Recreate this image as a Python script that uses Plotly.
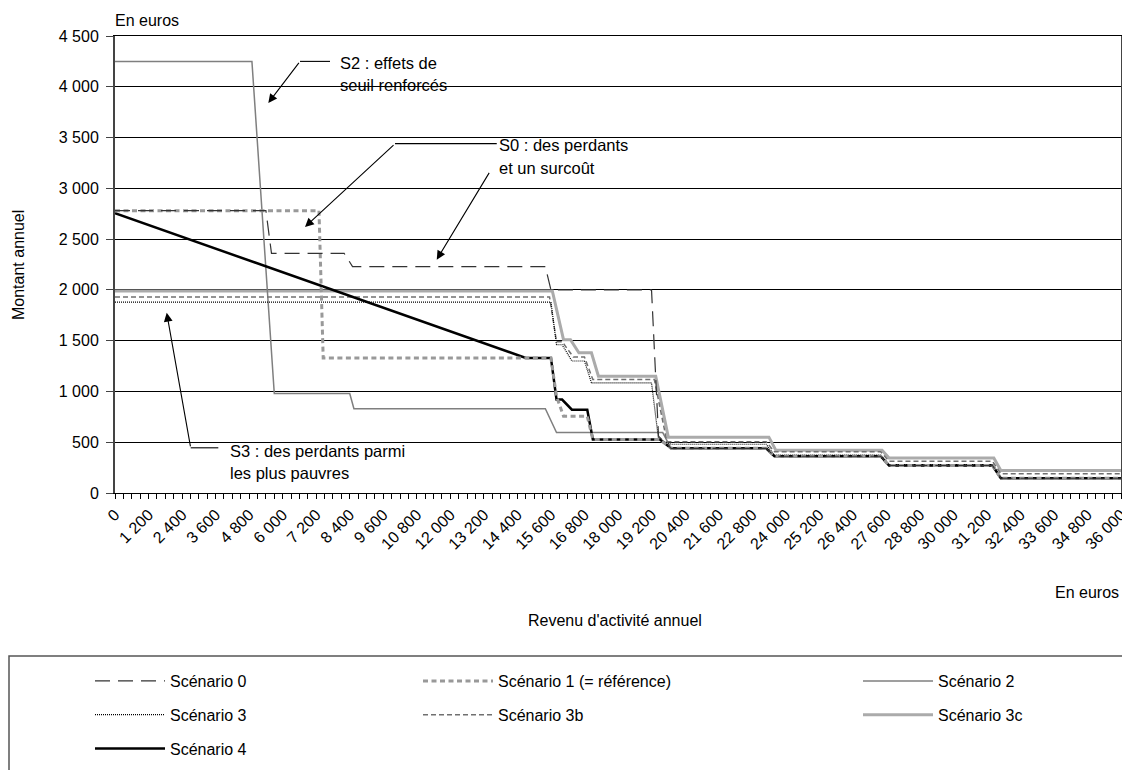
import plotly.graph_objects as go

# ---------------- data (euros / annual amount) ----------------
x_s0 = [0, 5400, 5600, 8200, 8500, 15400, 15600, 19200, 19450, 19900, 23300, 23600, 27400, 27700, 31400, 31700, 36000]
y_s0 = [2780, 2780, 2360, 2360, 2230, 2230, 2000, 2000, 560, 440, 440, 362, 362, 271, 271, 145, 145]

x_s1 = [0, 7300, 7450, 15600, 15800, 16050, 16900, 17100, 19500, 19900, 23300, 23600, 27400, 27700, 31400, 31700, 36000]
y_s1 = [2780, 2780, 1330, 1330, 950, 756, 756, 527, 527, 440, 440, 362, 362, 271, 271, 145, 145]

x_s2 = [0, 4900, 5700, 8400, 8550, 15400, 15800, 19600, 19900, 23300, 23600, 27400, 27700, 31400, 31700, 36000]
y_s2 = [4250, 4250, 980, 980, 830, 830, 595, 595, 440, 440, 362, 362, 271, 271, 145, 145]

x_s3 = [0, 15600, 15800, 16000, 16350, 16800, 17050, 19200, 19450, 19900, 23300, 23600, 27400, 27700, 31400, 31700, 36000]
y_s3 = [1880, 1880, 1460, 1460, 1300, 1300, 1085, 1085, 530, 480, 480, 372, 372, 280, 280, 152, 152]

x_s3b = [0, 15550, 15800, 16000, 16400, 16800, 17100, 19300, 19750, 23300, 23600, 27400, 27700, 31400, 31700, 36000]
y_s3b = [1930, 1930, 1490, 1490, 1340, 1340, 1117, 1117, 505, 505, 405, 405, 313, 313, 189, 189]

x_s3c = [0, 15650, 16050, 16300, 16600, 17050, 17300, 19350, 19800, 23400, 23650, 27450, 27700, 31450, 31700, 36000]
y_s3c = [1990, 1990, 1510, 1510, 1380, 1380, 1150, 1150, 550, 550, 420, 420, 345, 345, 222, 222]

x_s4 = [0, 14700, 15600, 15800, 16000, 16350, 16900, 17100, 19500, 19900, 23300, 23600, 27400, 27700, 31400, 31700, 36000]
y_s4 = [2755, 1330, 1330, 920, 920, 820, 820, 527, 527, 440, 440, 362, 362, 271, 271, 145, 145]

names = ["Scénario 0", "Scénario 1 (= référence)", "Scénario 2", "Scénario 3",
         "Scénario 3b", "Scénario 3c", "Scénario 4"]

FONT = "Liberation Sans, Arial, sans-serif"

fig = go.Figure()

def add(x, y, name, color, width, dash, legend, rank):
    fig.add_trace(go.Scatter(
        x=x, y=y, name=name, mode="lines",
        line=dict(color=color, width=width, dash=dash),
        legend=legend, legendrank=rank, legendgroup=name,
        hoverinfo="skip"))

# drawing order (bottom -> top)
add(x_s3c, y_s3c, names[5], "#ababab", 3, "solid", "legend3", 2)
add(x_s2, y_s2, names[2], "#7f7f7f", 1.5, "solid", "legend3", 1)
add(x_s3b, y_s3b, names[4], "#707070", 1.5, "5px,3px", "legend2", 2)
add(x_s3, y_s3, names[3], "#000000", 1.2, "1px,1px", "legend", 2)
add(x_s4, y_s4, names[6], "#000000", 2.5, "solid", "legend", 3)
add(x_s1, y_s1, names[1], "#999999", 3, "5px,3.5px", "legend2", 1)
add(x_s0, y_s0, names[0], "#333333", 1.2, "15px,8px", "legend", 1)

# page body has an 8px margin: the figure starts at (8, 8) in the window
OFF = 8
W, H = 1122, 762
L, R, T, B = 107, 9, 28, 277
PW = W - L - R
PH = H - T - B

def px(xp):  # window pixel -> paper x
    return (xp - OFF - L) / PW

def py(yp):  # window pixel -> paper y
    return (H - B - (yp - OFF)) / PH

def cx(xp):  # window pixel -> container x
    return (xp - OFF) / W

def cy(yp):
    return 1 - (yp - OFF) / H

annotations = []

def txt(text, x, y, xanchor="left", yanchor="middle", size=16, angle=0):
    annotations.append(dict(text=text, x=x, y=y, xref="paper", yref="paper",
                            xanchor=xanchor, yanchor=yanchor, showarrow=False,
                            textangle=angle,
                            font=dict(family=FONT, size=size, color="black")))

# axis texts
txt("En euros", px(113), py(20))
txt("Montant annuel", px(18), py(265), xanchor="center", angle=-90)
txt("En euros", px(1121), py(592), xanchor="right")
txt("Revenu d'activité annuel", px(615), py(620), xanchor="center")

# callout texts (data coordinates)
def dtxt(text, x, y):
    annotations.append(dict(text=text, x=x, y=y, xref="x", yref="y",
                            xanchor="left", yanchor="middle", showarrow=False,
                            font=dict(family=FONT, size=16.5, color="black")))

dtxt("S2 : effets de", 7980, 4234)
dtxt("seuil renforcés", 7980, 4015)
dtxt("S0 : des perdants", 13672, 3430)
dtxt("et un surcoût", 13672, 3201)
dtxt("S3 : des perdants parmi", 4055, 411)
dtxt("les plus pauvres", 4055, 195)

def arrow(x0, y0, x1, y1):
    annotations.append(dict(text="", x=x1, y=y1, ax=x0, ay=y0,
                            xref="x", yref="y", axref="x", ayref="y",
                            showarrow=True, arrowhead=2, arrowsize=1.6,
                            arrowwidth=1.1, arrowcolor="black", standoff=0,
                            startstandoff=0))

shapes = []

def seg(x0, y0, x1, y1):
    shapes.append(dict(type="line", x0=x0, y0=y0, x1=x1, y1=y1,
                       xref="x", yref="y", line=dict(color="black", width=1.1)))

# S2 callout
seg(7695, 4250, 6621, 4250)
arrow(6621, 4250, 5487, 3841)
# S0 callouts
seg(13661, 3440, 10021, 3440)
arrow(10021, 3440, 6800, 2620)
arrow(13422, 3167, 11514, 2298)
# S3 callout
seg(3697, 445, 2709, 445)
arrow(2709, 445, 1850, 1774)

# legend frame
shapes.append(dict(type="rect", xref="paper", yref="paper",
                   x0=px(9), x1=px(1140), y0=py(656), y1=py(790),
                   line=dict(color="#555555", width=1.5), fillcolor="rgba(0,0,0,0)"))

leg_common = dict(orientation="v", xanchor="left", yanchor="top",
                  xref="container", yref="container",
                  bgcolor="rgba(0,0,0,0)", borderwidth=0,
                  font=dict(family=FONT, size=16, color="black"),
                  tracegroupgap=10, traceorder="grouped", itemwidth=70)

fig.update_layout(
    width=W, height=H,
    margin=dict(l=L, r=R, t=T, b=B, autoexpand=False),
    paper_bgcolor="white", plot_bgcolor="white",
    separators=", ",
    font=dict(family=FONT, size=16, color="black"),
    showlegend=True,
    legend=dict(x=cx(90), y=cy(664), **leg_common),
    legend2=dict(x=cx(418), y=cy(664), **leg_common),
    legend3=dict(x=cx(858), y=cy(664), **leg_common),
    xaxis=dict(range=[0, 36000], tickmode="linear", tick0=0, dtick=1200,
               tickangle=-45, tickformat=",d", exponentformat="none",
               separatethousands=True, automargin=False,
               ticks="outside", ticklen=5, tickcolor="black", tickwidth=1,
               minor=dict(dtick=300, ticks="outside", ticklen=5,
                          tickcolor="black", tickwidth=1, showgrid=False),
               showgrid=False, zeroline=False,
               showline=True, linecolor="black", linewidth=1, mirror=True,
               tickfont=dict(family=FONT, size=16, color="black")),
    yaxis=dict(range=[0, 4500], tickmode="linear", tick0=0, dtick=500,
               tickformat=",d", separatethousands=True, automargin=False,
               ticks="outside", ticklen=7, tickcolor="#444444", tickwidth=1,
               ticklabelstandoff=4,
               showgrid=True, gridcolor="black", gridwidth=1, zeroline=False,
               showline=True, linecolor="#444444", linewidth=2, mirror=True,
               tickfont=dict(family=FONT, size=16, color="black")),
    annotations=annotations,
    shapes=shapes,
)

fig.write_html("out.html")
